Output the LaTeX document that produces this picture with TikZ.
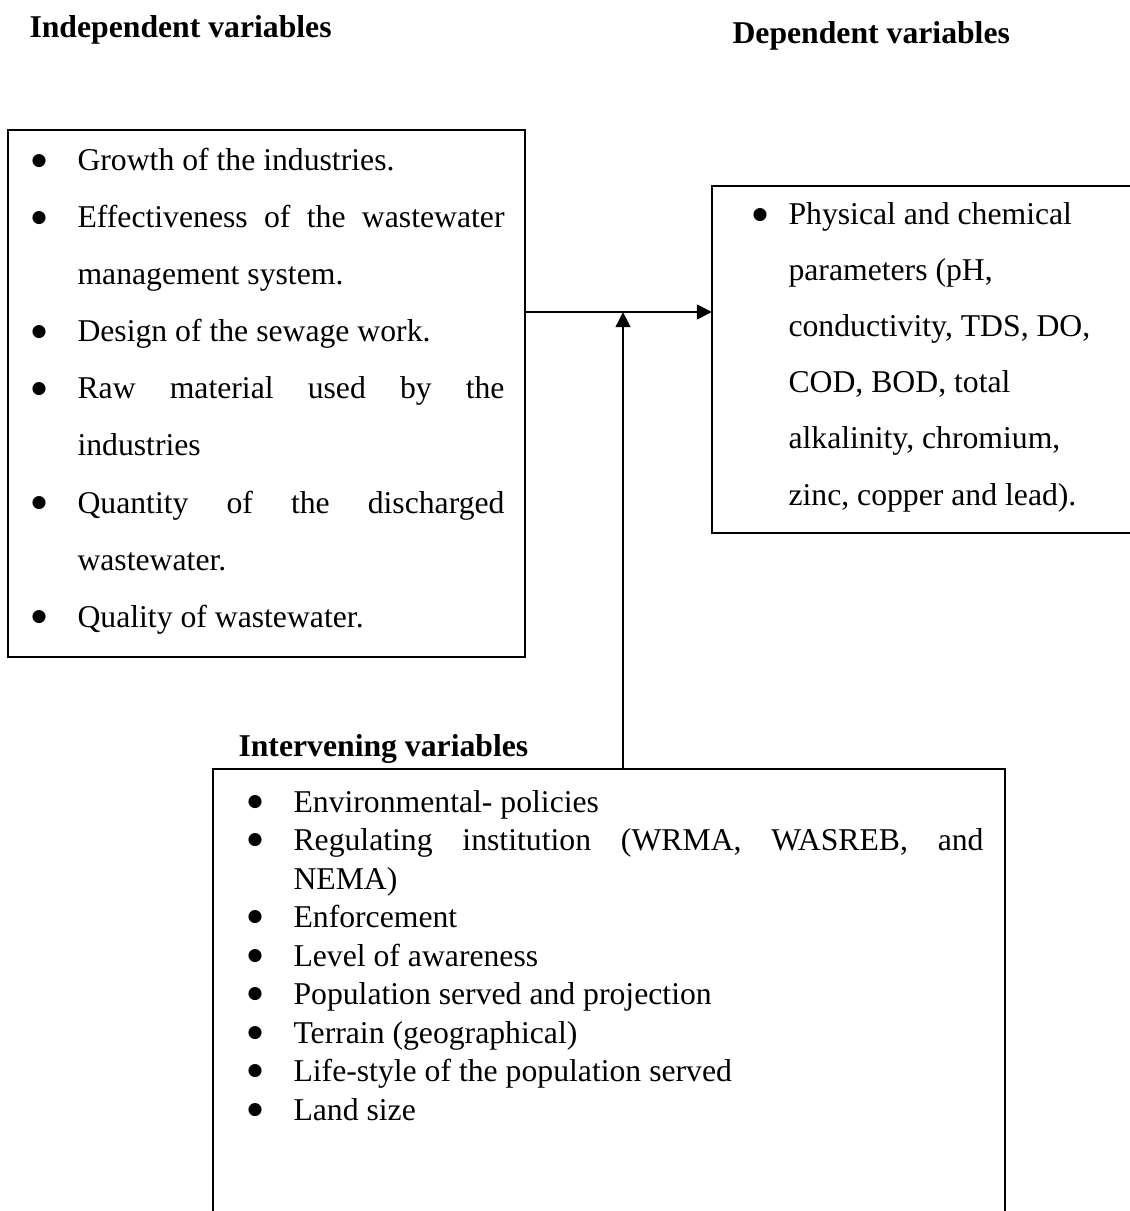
\documentclass[tikz,border=0pt]{standalone}
\usepackage{fontspec}
\setmainfont{Liberation Serif}
\newfontfamily\dotfont{DejaVu Sans}
\usetikzlibrary{arrows.meta}
\newlength{\pxu}
\setlength{\pxu}{0.3785pt}
\newcommand{\bull}[1]{\makebox[#1\pxu][l]{\raisebox{2.2pt}{\dotfont\fontsize{6.5}{7}\selectfont ●}}}
\newcommand{\just}[2]{\makebox[#1\pxu][s]{#2}}
\begin{document}
\begin{tikzpicture}[x=0.3785pt, y=-0.3785pt, font=\fontsize{12}{14}\selectfont]
\tikzstyle{block} = [rectangle, draw, line width=0.8pt, inner sep=0pt,
    outer sep=0pt, anchor=north west]
\tikzstyle{head} = [anchor=base west, inner sep=0pt,
    font=\fontsize{12}{14}\selectfont\bfseries]
\tikzstyle{entry} = [anchor=base west, inner sep=0pt]
\tikzstyle{line} = [draw, line width=0.8pt, -{Triangle[length=5.7pt, width=5.5pt]}]

    \useasboundingbox (0,0) rectangle (1129,1211);
    % Place headings
    \node [head] (indeph) at (29,38) {Independent variables};
    \node [head] (deph) at (732,44) {Dependent variables};
    \node [head] (intervh) at (238,756) {Intervening variables};
    % Place boxes
    \node [block, minimum width=517\pxu, minimum height=527\pxu] (indep) at (8,130) {};
    \node [block, minimum width=500\pxu, minimum height=347\pxu] (dep) at (712,186) {};
    \node [block, minimum width=792\pxu, minimum height=520\pxu] (interv) at (213,769) {};
    % Independent variables
    \node [entry] (in1) at (31,171) {\bull{46}Growth of the industries.};
    \node [entry] (in2) at (31,228) {\bull{46}\just{427}{Effectiveness of the wastewater}};
    \node [entry] (in2b) at (77,285) {management system.};
    \node [entry] (in3) at (31,342) {\bull{46}Design of the sewage work.};
    \node [entry] (in4) at (31,399) {\bull{46}\just{427}{Raw material used by the}};
    \node [entry] (in4b) at (77,456) {industries};
    \node [entry] (in5) at (31,513) {\bull{46}\just{427}{Quantity of the discharged}};
    \node [entry] (in5b) at (77,570) {wastewater.};
    \node [entry] (in6) at (31,627) {\bull{46}Quality of wastewater.};
    % Dependent variables
    \node [entry] (dp1) at (752,225) {\bull{36}Physical and chemical};
    \node [entry] (dp2) at (788,281) {parameters (pH,};
    \node [entry] (dp3) at (788,337) {conductivity, TDS, DO,};
    \node [entry] (dp4) at (788,393) {COD, BOD, total};
    \node [entry] (dp5) at (788,449) {alkalinity, chromium,};
    \node [entry] (dp6) at (788,505) {zinc, copper and lead).};
    % Intervening variables
    \node [entry] (iv1) at (247,812) {\bull{46}Environmental- policies};
    \node [entry] (iv2) at (247,850.5) {\bull{46}\just{690}{Regulating institution (WRMA, WASREB, and}};
    \node [entry] (iv2b) at (293,889) {NEMA)};
    \node [entry] (iv3) at (247,927.5) {\bull{46}Enforcement};
    \node [entry] (iv4) at (247,966) {\bull{46}Level of awareness};
    \node [entry] (iv5) at (247,1004.5) {\bull{46}Population served and projection};
    \node [entry] (iv6) at (247,1043) {\bull{46}Terrain (geographical)};
    \node [entry] (iv7) at (247,1081.5) {\bull{46}Life-style of the population served};
    \node [entry] (iv8) at (247,1120) {\bull{46}Land size};
    % Draw edges
    \coordinate (meet) at (623,312);
    \path [line] (meet -| indep.east) -- (meet -| dep.west);
    \path [line] (meet |- interv.north) -- (meet);
\end{tikzpicture}
\end{document}
